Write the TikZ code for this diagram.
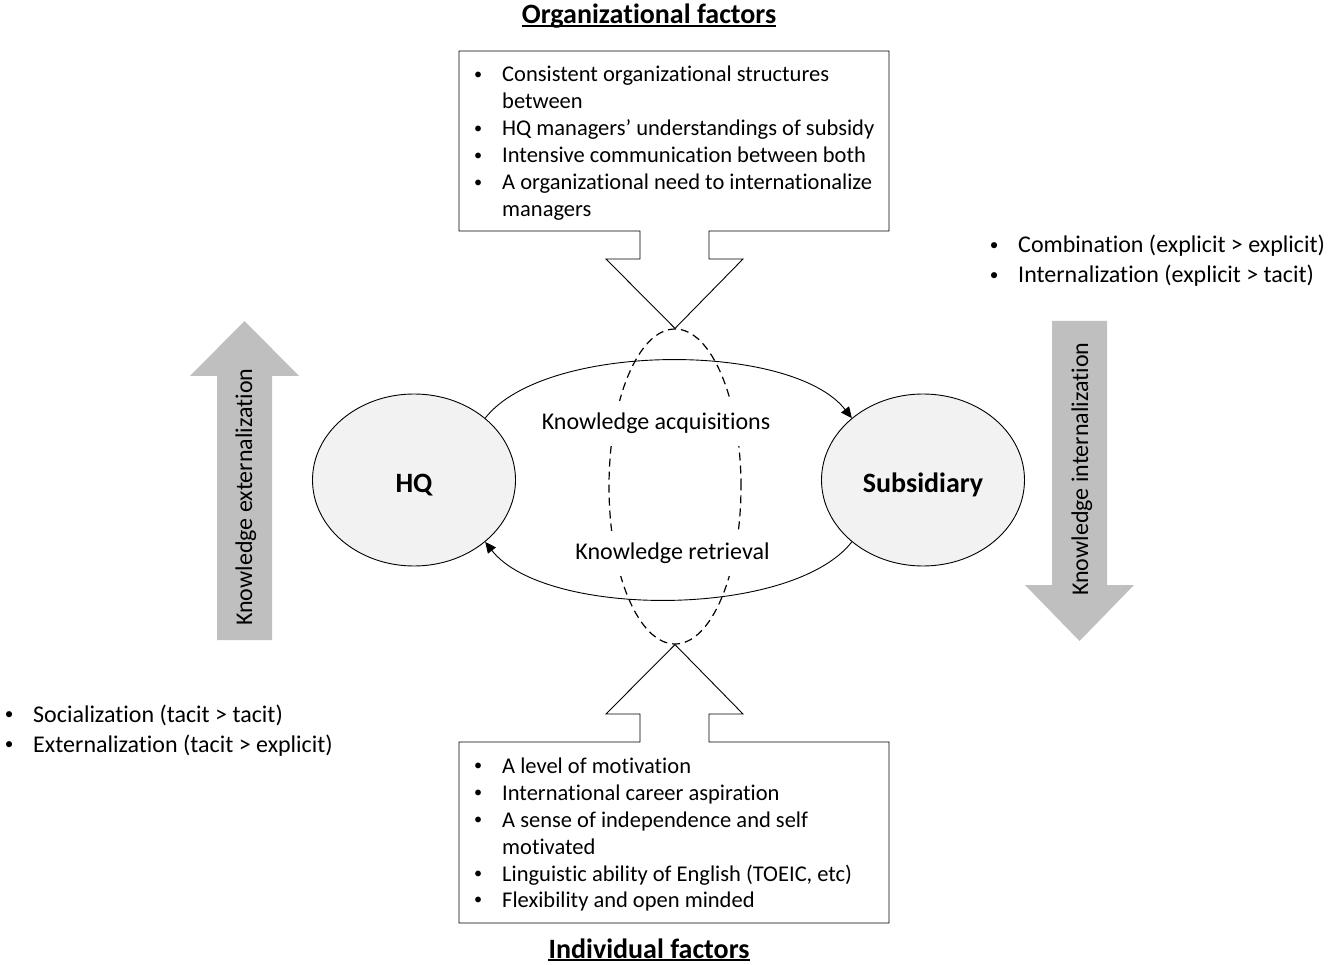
\documentclass[tikz,border=0pt]{standalone}
\usepackage{fontspec}
\usepackage{graphicx}
\setmainfont{Carlito}[Ligatures=NoCommon]
\usetikzlibrary{shapes.geometric,arrows.meta}
\definecolor{bubblefill}{RGB}{242,242,242}
\definecolor{flowgray}{RGB}{191,191,191}
% a small bullet in a 48pt wide slot, followed by the item text
\newcommand{\bulletrow}[1]{\makebox[48pt][c]{\raisebox{0.09em}{\scalebox{0.72}{\textbullet}}}#1}
% bubble label whose baseline sits a fixed distance below the bubble centre
\newcommand{\bubblelabel}[1]{\raisebox{-12pt}[0pt][0pt]{#1}}
\begin{document}
\begin{tikzpicture}[x=1pt,y=-1pt,
  body/.style={font=\fontsize{24}{27}\selectfont, inner sep=0pt, anchor=base west},
  boxtext/.style={font=\fontsize{22.5}{27}\selectfont, inner sep=0pt, anchor=base west},
  headline/.style={font=\fontsize{28}{32}\selectfont\bfseries, inner sep=0pt, anchor=base},
  bubble/.style={ellipse, draw, line width=0.9pt, fill=bubblefill,
    minimum width=203pt, minimum height=172pt, inner sep=0pt,
    font=\fontsize{28}{32}\selectfont\bfseries},
  callout/.style={draw, line width=0.9pt, fill=white, line join=miter},
  flow/.style={fill=flowgray},
  flowtext/.style={font=\fontsize{24}{27}\selectfont, inner sep=0pt, anchor=base west, rotate=90},
  link/.style={line width=0.9pt, -{Triangle[length=11pt,width=10pt]}},
  tag/.style={fill=white, font=\fontsize{24}{27}\selectfont, inner xsep=4pt,
    inner ysep=0pt, minimum height=45pt},
]
\useasboundingbox (0,0) rectangle (1333,965);

% ---- titles ----
\node[headline] (orgtitle) at (649,24) {Organizational factors};
\draw[line width=1.3pt] ([yshift=-2pt]orgtitle.base west) -- ([yshift=-2pt]orgtitle.base east);
\node[headline] (indtitle) at (649,958) {Individual factors};
\draw[line width=1.3pt] ([yshift=-2pt]indtitle.base west) -- ([yshift=-2pt]indtitle.base east);

% ---- exchange loop between the two units ----
\node[ellipse, draw, dashed, dash pattern=on 8pt off 5pt, line width=1.2pt,
  minimum width=132pt, minimum height=315pt, inner sep=0pt] (loop) at (675,486.5) {};

\node[bubble] (hq) at (414,480) {\bubblelabel{HQ}};
\node[bubble] (sub) at (923,480) {\bubblelabel{Subsidiary}};

\draw[link] (hq.41) to[out=52, in=128, looseness=0.68] (sub.139);
\draw[link] (sub.221) to[out=232, in=308, looseness=0.68] (hq.319);

\node[tag] (acq) at (656,423) {Knowledge acquisitions};
\node[tag] (ret) at (672.5,553) {Knowledge retrieval};

% ---- organizational factors callout ----
\draw[callout] (459,51) -- (889,51) -- (889,231) -- (709,231) -- (709,259) -- (743,259)
  -- (loop.north) -- (606,259) -- (640,259) -- (640,231) -- (459,231) -- cycle;
\node[boxtext] (o1) at (454,82)  {\bulletrow{Consistent organizational structures}};
\node[boxtext] (o1b) at (502,109) {between};
\node[boxtext] (o2) at (454,136) {\bulletrow{HQ managers’ understandings of subsidy}};
\node[boxtext] (o3) at (454,163) {\bulletrow{Intensive communication between both}};
\node[boxtext] (o4) at (454,190) {\bulletrow{A organizational need to internationalize}};
\node[boxtext] (o4b) at (502,217) {managers};

% ---- individual factors callout ----
\draw[callout] (459,923) -- (889,923) -- (889,742) -- (709,742) -- (709,714) -- (743,714)
  -- (loop.south) -- (606,714) -- (640,714) -- (640,742) -- (459,742) -- cycle;
\node[boxtext] (i1) at (454,773) {\bulletrow{A level of motivation}};
\node[boxtext] (i2) at (454,800) {\bulletrow{International career aspiration}};
\node[boxtext] (i3) at (454,827) {\bulletrow{A sense of independence and self}};
\node[boxtext] (i3b) at (502,854) {motivated};
\node[boxtext] (i4) at (454,881) {\bulletrow{Linguistic ability of English (TOEIC, etc)}};
\node[boxtext] (i5) at (454,907) {\bulletrow{Flexibility and open minded}};

% ---- externalization side ----
\fill[flow] (217,640) -- (217,376) -- (190,376) -- (244.5,321) -- (299,376) -- (272,376) -- (272,640) -- cycle;
\node[flowtext] (ext) at (252,626) {Knowledge externalization};
\node[body] (s1) at (-15,722) {\bulletrow{Socialization (tacit > tacit)}};
\node[body] (s2) at (-15,752) {\bulletrow{Externalization (tacit > explicit)}};

% ---- internalization side ----
\fill[flow] (1052,321) -- (1107,321) -- (1107,585) -- (1134,585) -- (1079.5,641) -- (1025,585) -- (1052,585) -- cycle;
\node[flowtext] (int) at (1088,596) {Knowledge internalization};
\node[body] (c1) at (970,253) {\bulletrow{Combination (explicit > explicit)}};
\node[body] (c2) at (970,283) {\bulletrow{Internalization (explicit > tacit)}};
\end{tikzpicture}
\end{document}
